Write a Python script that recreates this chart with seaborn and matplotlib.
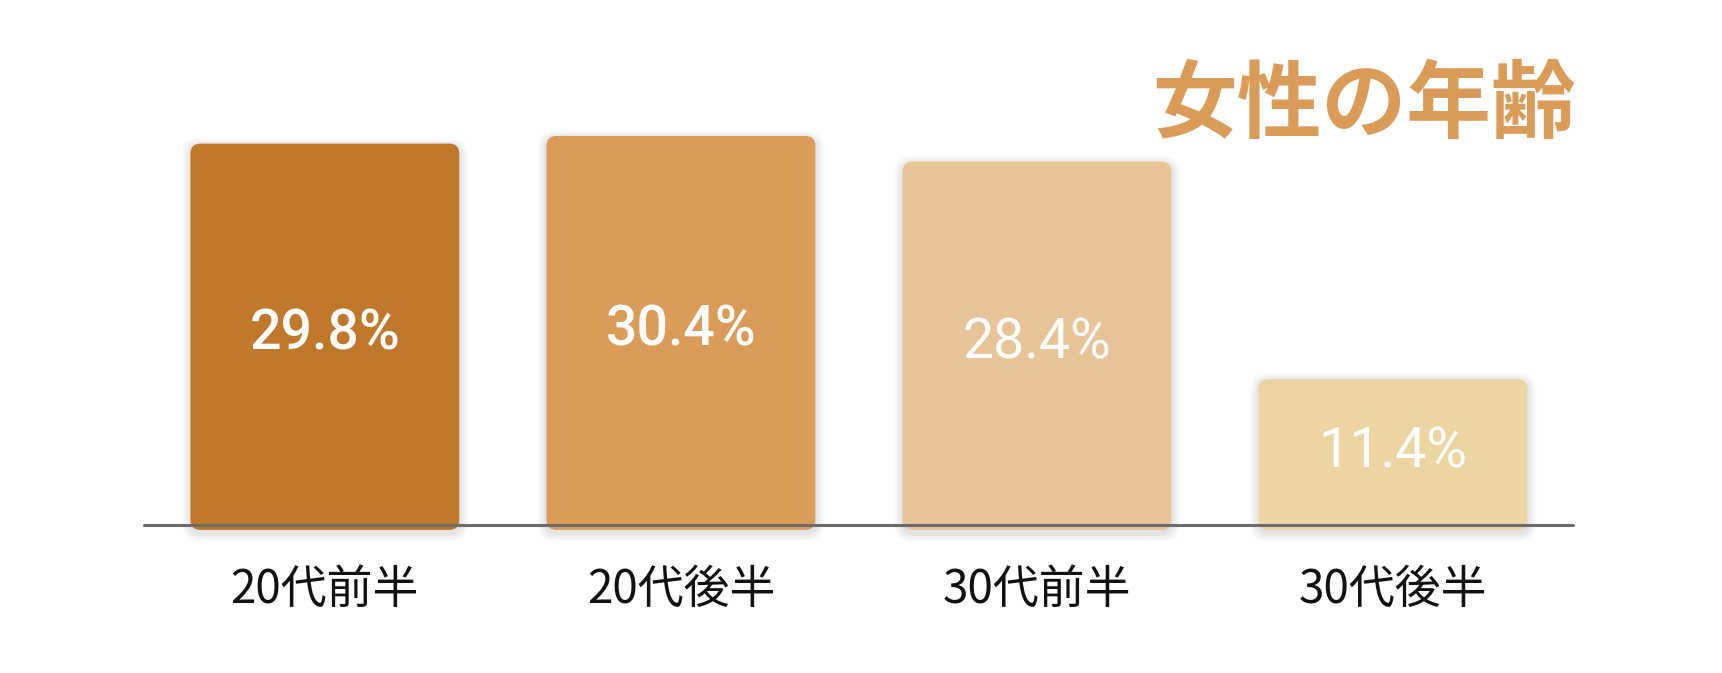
import matplotlib.pyplot as plt
import seaborn as sns
import pandas as pd
from matplotlib.patches import FancyBboxPatch

# data
ages = ['20代前半', '20代後半', '30代前半', '30代後半']
ratio = [29.8, 30.4, 28.4, 11.4]
bar_colors = ['#C0782C', '#DA9C58', '#E7C598', '#EDD5A3']
label_weight = ['medium', 'medium', 'normal', 'normal']
title = '女性の年齢'

sns.set_style('white')
plt.rcParams['font.family'] = ['Noto Sans CJK JP', 'DejaVu Sans']

df = pd.DataFrame({'age': ages, 'ratio': ratio})

fig = plt.figure(figsize=(17.22, 6.73), dpi=100)
ax = fig.add_axes([0.0836, 0.22, 0.83, 0.578])
sns.barplot(data=df, x='age', y='ratio', hue='age', palette=bar_colors,
            saturation=1, legend=False, width=0.755, ax=ax)
ax.set_xlim(-0.508, 3.506)
ax.set_ylim(0, max(ratio))

# pixels per data unit, used to get round corners and shadows right
p0 = ax.transData.transform((0, 0))
p1 = ax.transData.transform((1, 1))
ppx = p1[0] - p0[0]
ppy = p1[1] - p0[1]
aspect = ppx / ppy

for p in list(ax.patches):
    x, y, w, h = p.get_x(), p.get_y(), p.get_width(), p.get_height()
    fc = p.get_facecolor()
    p.set_visible(False)
    # soft shadow
    for k in range(1, 10):
        sh = FancyBboxPatch((x, y - 8 / ppy), w, h + 5 / ppy,
                            boxstyle='round,pad=%f,rounding_size=%f' % (k / ppx, (10 + k) / ppx),
                            mutation_aspect=aspect, fc='black', ec='none',
                            alpha=0.010, clip_on=False, zorder=1)
        ax.add_patch(sh)
    bar = FancyBboxPatch((x, y - 5 / ppy), w, h + 5 / ppy,
                         boxstyle='round,pad=0,rounding_size=%f' % (10 / ppx),
                         mutation_aspect=aspect, fc=fc, ec='none',
                         clip_on=False, zorder=2)
    ax.add_patch(bar)

for i, v in enumerate(ratio):
    ax.text(i, v / 2, f'{v}%', ha='center', va='center', color='white',
            fontsize=40, family='Roboto', fontweight=label_weight[i], zorder=4)

ax.axhline(0, color='#6b6b6b', lw=2.2, zorder=3, clip_on=False)
sns.despine(ax=ax, left=True, bottom=True)
ax.set_yticks([])
ax.set_xlabel('')
ax.set_ylabel('')
ax.tick_params(axis='x', length=0, pad=29, labelsize=33, labelcolor='#111111')

fig.text(1576 / 1722, 1 - 106 / 673, title, ha='right', va='center',
         fontsize=61, fontweight='bold', color='#DA9C58')

fig.savefig('out.png', dpi=100, facecolor='white')
